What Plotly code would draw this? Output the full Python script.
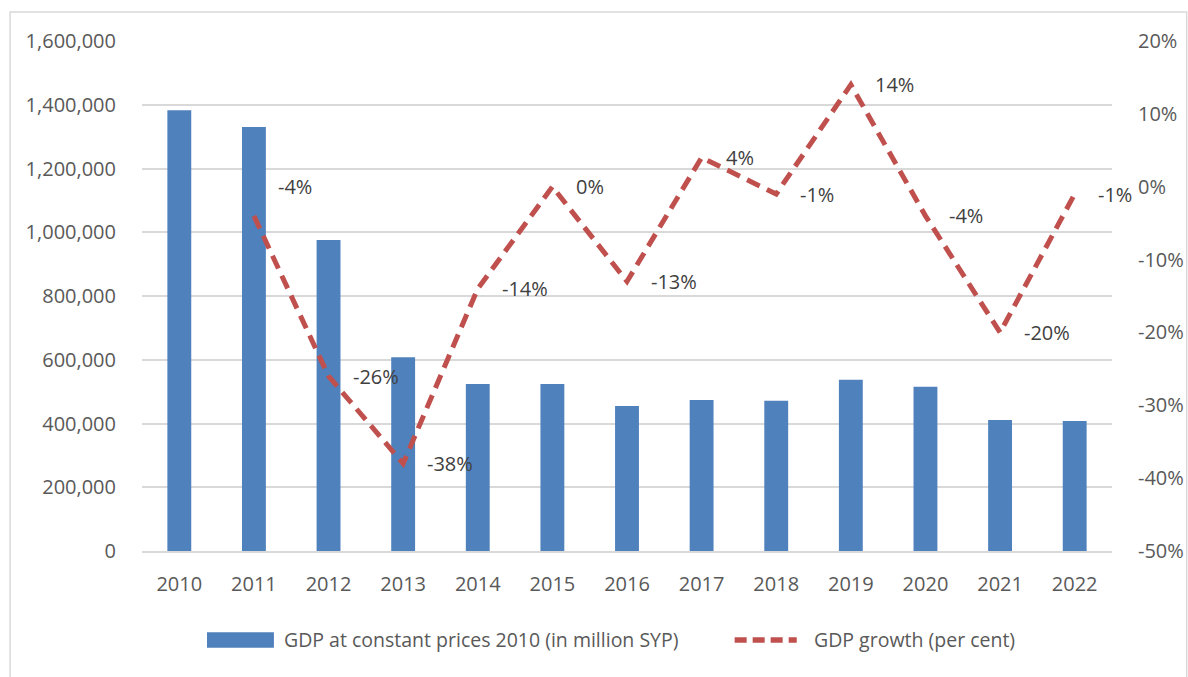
import plotly.graph_objects as go

# Syrian GDP at constant 2010 prices and annual growth rate
years = ["2010", "2011", "2012", "2013", "2014", "2015", "2016",
         "2017", "2018", "2019", "2020", "2021", "2022"]
gdp_constant = [1383000, 1330000, 976000, 608000, 524000, 524000, 455000,
                474000, 471000, 537000, 515000, 411000, 408000]
growth_years = years[1:]
growth_pct = [-4, -26, -38, -14, 0, -13, 4, -1, 14, -4, -20, -1]

left_ticks = [0, 200000, 400000, 600000, 800000, 1000000, 1200000, 1400000, 1600000]
right_ticks = [-50, -40, -30, -20, -10, 0, 10, 20]
right_ticktext = [f"{t}%" for t in right_ticks]

BAR_COLOR = "#4f81bd"
LINE_COLOR = "#c0504d"
GRID = "#d9d9d9"
TICK_FONT = dict(family="Open Sans", size=20, color="#595959")
LEGEND_FONT = dict(family="Open Sans", size=19.5, color="#595959")
LABEL_FONT = dict(family="Open Sans", size=20, color="#404040")

fig = go.Figure()

fig.add_trace(go.Bar(
    x=years, y=gdp_constant, marker=dict(color=BAR_COLOR, line=dict(width=0)),
    name="GDP at constant prices 2010 (in million SYP)", yaxis="y", showlegend=False,
))

fig.add_trace(go.Scatter(
    x=growth_years, y=growth_pct, mode="lines", yaxis="y2",
    line=dict(color=LINE_COLOR, width=5, dash="14px,8px"),
    name="GDP growth (per cent)", showlegend=False,
))

# value labels beside each growth point (category index as x position)
for yr, v in zip(growth_years, growth_pct):
    shift_y = 29 if yr == "2011" else 0
    shift_x = 21 if yr == "2022" else 22
    fig.add_annotation(
        x=years.index(yr), y=v, xref="x", yref="y2", text=f"{v}%", showarrow=False,
        xanchor="left", yanchor="middle", xshift=shift_x, yshift=shift_y,
        font=LABEL_FONT,
    )

# custom legend beneath the plot
legend_y = -0.1745
fig.add_shape(type="rect", xref="paper", yref="paper",
              x0=0.067, x1=0.136, y0=legend_y - 0.015, y1=legend_y + 0.015,
              fillcolor=BAR_COLOR, line=dict(width=0))
fig.add_annotation(x=0.1443, y=legend_y, xref="paper", yref="paper",
                   text="GDP at constant prices 2010 (in million SYP)",
                   showarrow=False, xanchor="left", yanchor="middle", font=LEGEND_FONT)
fig.add_shape(type="line", xref="paper", yref="paper",
              x0=0.611, x1=0.675, y0=legend_y, y1=legend_y,
              line=dict(color=LINE_COLOR, width=5.5, dash="12px,6px"))
fig.add_annotation(x=0.6907, y=legend_y, xref="paper", yref="paper",
                   text="GDP growth (per cent)",
                   showarrow=False, xanchor="left", yanchor="middle", font=LEGEND_FONT)

# chart frame
fig.add_shape(type="rect", xref="paper", yref="paper",
              x0=-0.136, x1=1.077, y0=-0.25, y1=1.0569,
              line=dict(color=GRID, width=1.5), fillcolor="rgba(0,0,0,0)", layer="below")

fig.update_layout(
    width=1188, height=677,
    margin=dict(l=142, r=76, t=41, b=126, autoexpand=False),
    paper_bgcolor="white", plot_bgcolor="white",
    bargap=0.68,
    xaxis=dict(
        type="category", range=[-0.5, len(years) - 0.5], automargin=False,
        showgrid=False, showline=True, linecolor=GRID, linewidth=1.5,
        tickfont=TICK_FONT, ticks="", ticklabelstandoff=14,
    ),
    yaxis=dict(
        range=[0, 1600000], tickvals=left_ticks, tickformat=",d", automargin=False,
        showgrid=True, gridcolor=GRID, gridwidth=1.5, zeroline=False,
        tickfont=TICK_FONT, ticks="", ticklabelstandoff=25, showline=False,
    ),
    yaxis2=dict(
        range=[-50, 20], tickvals=right_ticks, ticktext=right_ticktext, automargin=False,
        overlaying="y", side="right", showgrid=False, zeroline=False,
        tickfont=TICK_FONT, ticks="", ticklabelstandoff=25, showline=False,
    ),
    showlegend=False,
)

fig.write_html("out.html")
